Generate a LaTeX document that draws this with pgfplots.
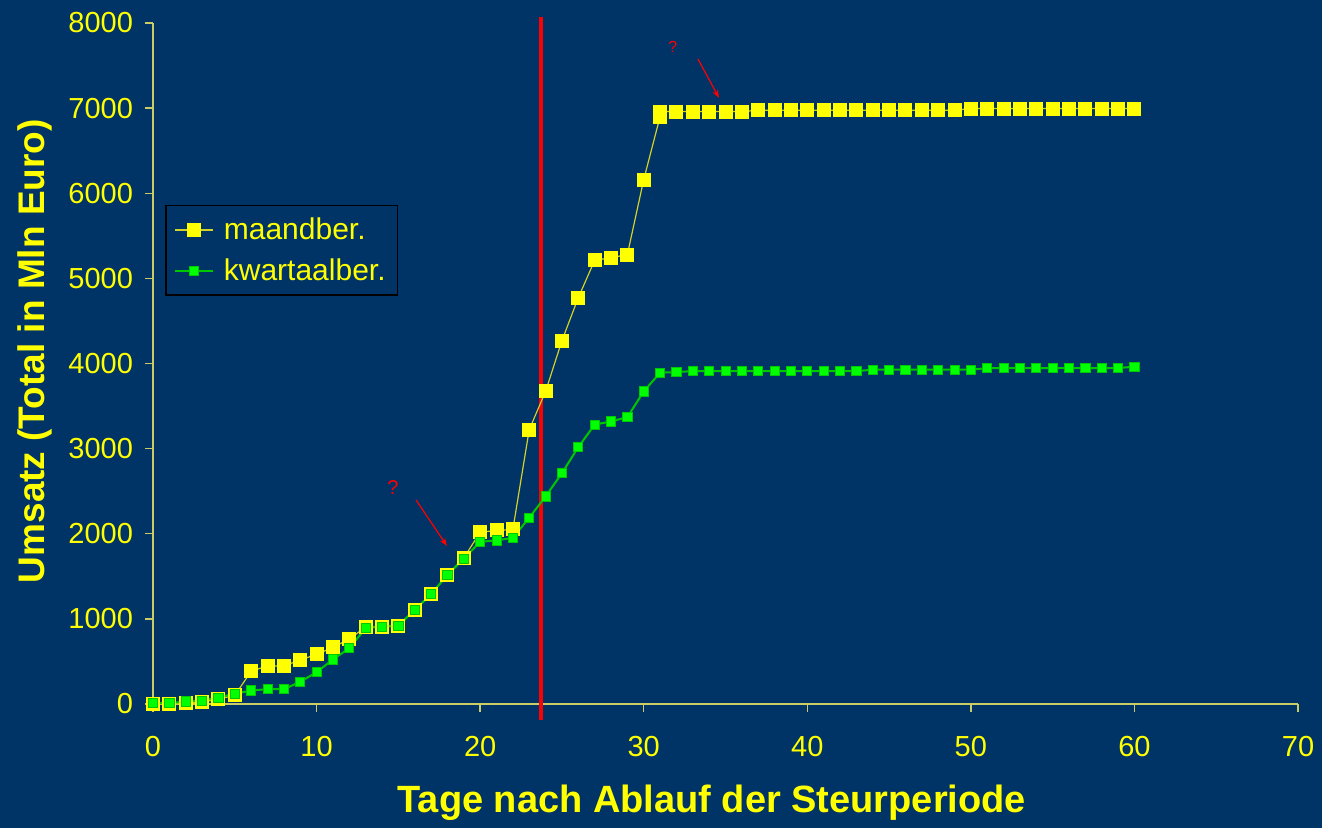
\documentclass[border=0pt]{standalone}
\usepackage{pgfplots}
\pgfplotsset{compat=1.18}
\usepackage{fontspec}
\setmainfont{Liberation Sans}
\usetikzlibrary{arrows.meta}
\definecolor{bg}{RGB}{0,51,102}
\definecolor{axcol}{RGB}{204,204,102}
\definecolor{ylw}{RGB}{255,255,0}
\definecolor{ylwline}{RGB}{210,210,40}
\definecolor{grn}{RGB}{0,255,0}
\definecolor{grndark}{RGB}{0,200,0}
\pgfplotstableread{
x y
0 0
1 5
2 10
3 20
4 60
5 100
6 385
7 447
8 447
9 517
10 583
11 665
12 763
13 904
14 904
15 916
16 1104
17 1292
18 1515
19 1716
20 2017
21 2040
22 2050
23 3223
24 3672
25 4268
26 4773
27 5211
28 5243
29 5279
30 6160
31 6900
31 6960
32 6960
33 6960
34 6960
35 6960
36 6960
37 6975
38 6975
39 6975
40 6975
41 6975
42 6975
43 6975
44 6975
45 6975
46 6975
47 6975
48 6975
49 6975
50 6995
51 6995
52 6995
53 6995
54 6995
55 6995
56 6995
57 6995
58 6995
59 6995
60 6995
}\maand
\pgfplotstableread{
x y
0 10
1 10
2 30
3 41
4 76
5 120
6 159
7 174
8 174
9 260
10 374
11 523
12 656
13 891
14 910
15 922
16 1107
17 1290
18 1518
19 1706
20 1906
21 1921
22 1953
23 2188
24 2438
25 2711
26 3018
27 3281
28 3320
29 3370
30 3672
31 3892
32 3899
33 3911
34 3911
35 3911
36 3911
37 3911
38 3911
39 3911
40 3911
41 3911
42 3911
43 3911
44 3927
45 3927
46 3927
47 3927
48 3927
49 3927
50 3927
51 3946
52 3946
53 3946
54 3946
55 3946
56 3946
57 3946
58 3946
59 3946
60 3963
}\kwart
\begin{document}
\begin{tikzpicture}
\path[use as bounding box, fill=bg] (0,0) rectangle (661pt,414pt);
\begin{axis}[
  at={(76.5pt,62pt)}, anchor=south west,
  scale only axis, width=572.5pt, height=340.5pt,
  xmin=0, xmax=70, ymin=0, ymax=8000,
  axis x line*=bottom, axis y line*=left,
  axis line style={axcol, line width=0.75pt},
  xtick={0,10,...,70}, ytick={0,1000,...,8000},
  tick align=outside, major tick length=4pt,
  tick style={axcol, line width=0.75pt},
  ticklabel style={font=\fontsize{14.5}{16}\selectfont, text=ylw},
  xticklabel style={yshift=-8.5pt},
  yticklabel style={xshift=-2.5pt},
  /pgf/number format/assume math mode=true,
  /pgf/number format/1000 sep={},
  scaled y ticks=false,
  clip=false,
  xlabel={Tage nach Ablauf der Steurperiode},
  ylabel={Umsatz (Total in Mln Euro)},
  xlabel style={at={(axis description cs:0.488,-0.1454)}, anchor=center, text=ylw, font=\bfseries\fontsize{19}{22}\selectfont},
  ylabel style={at={(axis description cs:-0.1031,0.518)}, anchor=center, rotate=0, text=ylw, font=\bfseries\fontsize{18.5}{22}\selectfont},
  legend style={at={(0.0105,0.733)}, anchor=north west, fill=bg, draw=black, line width=0.75pt,
    text=ylw, font=\fontsize{15}{17}\selectfont, row sep=4pt, column sep=3pt, inner sep=4pt},
  legend cell align=left,
  legend image code/.code={\draw[mark repeat=2,mark phase=2] plot coordinates {(0cm,0cm)(0.33cm,0cm)(0.67cm,0cm)};},
]
\addplot[red, line width=2pt, forget plot] coordinates {(23.7,-188) (23.7,8073)};
\addplot[ylwline, line width=0.6pt, mark=square*, mark size=3.25pt, mark options={fill=ylw, draw=ylw, line width=0pt}] table[x=x,y=y] {\maand};
\addlegendentry{maandber.}
\addplot[grndark, line width=1pt, mark=square*, mark size=2.3pt, mark options={fill=grn, draw=grndark, line width=0.4pt}] table[x=x,y=y] {\kwart};
\addlegendentry{kwartaalber.}
\draw[red, line width=0.6pt, -{Stealth[length=4pt,width=3pt]}] (axis cs:16.08,2397) -- (axis cs:17.97,1857);
\node[red, font=\fontsize{10}{12}\selectfont] at (axis cs:14.67,2538) {?};
\draw[red, line width=0.6pt, -{Stealth[length=4pt,width=3pt]}] (axis cs:33.31,7579) -- (axis cs:34.6,7121);
\node[red, font=\fontsize{8}{10}\selectfont] at (axis cs:31.78,7720) {?};
\end{axis}
\end{tikzpicture}
\end{document}
